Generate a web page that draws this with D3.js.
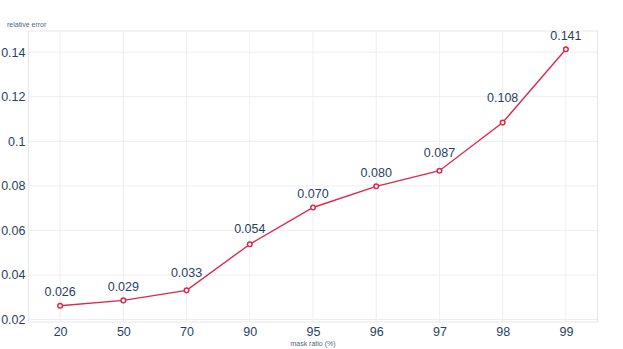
<!DOCTYPE html>
<html>
<head>
<meta charset="utf-8">
<script src="https://cdn.jsdelivr.net/npm/d3@7"></script>
<style>
  body { margin: 0; background: #fff; }
  text { font-family: "Liberation Sans", Arial, sans-serif; }
</style>
</head>
<body>
<div id="chart"></div>
<script>
var ratios = ["20", "50", "70", "90", "95", "96", "97", "98", "99"]
var errors = [0.0262, 0.0286, 0.0331, 0.0538, 0.0703, 0.0798, 0.0868, 0.1084, 0.1413]
var errorLabels = ["0.026", "0.029", "0.033", "0.054", "0.070", "0.080", "0.087", "0.108", "0.141"]
var yTicks = [0.02, 0.04, 0.06, 0.08, 0.1, 0.12, 0.14]

var width = 623, height = 349
// note: "top" is a reserved window global, so use plot* names
var plotLeft = 28.5, plotRight = 597.5, plotTop = 31, plotBottom = 322
var textColor = "#2a3f5f", lineColor = "#dc2a4e"

var svg = d3.select("#chart").append("svg")
            .attr("width", width)
            .attr("height", height)

var x = d3.scalePoint().domain(ratios).range([plotLeft, plotRight]).padding(0.5)
var y = d3.scaleLinear().domain([0.0189, 0.1495]).range([plotBottom, plotTop])

// grid
var grid = svg.append("g").attr("class", "grid")
grid.selectAll("line.h").data(yTicks)
  .enter().append("line")
    .attr("x1", plotLeft).attr("x2", plotRight)
    .attr("y1", d => y(d)).attr("y2", d => y(d))
    .attr("stroke", "#eeeeee").attr("stroke-width", 1)
grid.selectAll("line.v").data(ratios)
  .enter().append("line")
    .attr("x1", d => x(d)).attr("x2", d => x(d))
    .attr("y1", plotTop).attr("y2", plotBottom)
    .attr("stroke", "#eeeeee").attr("stroke-width", 1)

// frame
svg.append("rect")
   .attr("x", plotLeft).attr("y", plotTop)
   .attr("width", plotRight - plotLeft).attr("height", plotBottom - plotTop)
   .attr("fill", "none").attr("stroke", "#e8e8e8").attr("stroke-width", 1)

// axes
svg.append("g")
  .attr("transform", "translate(" + plotLeft + ",0)")
  .call(d3.axisLeft(y).tickValues(yTicks).tickFormat(d3.format("~g")).tickSize(0).tickPadding(3))
svg.append("g")
  .attr("transform", "translate(0," + plotBottom + ")")
  .call(d3.axisBottom(x).tickSize(0).tickPadding(5))
svg.selectAll(".domain").remove()
svg.selectAll(".tick text")
   .attr("fill", textColor)
   .style("font-size", "12.5px")
   .style("font-family", "'Liberation Sans', Arial, sans-serif")

// axis titles
svg.append("text")
   .attr("x", 7).attr("y", 27)
   .attr("fill", "#506784")
   .style("font-size", "7px")
   .text("relative error")
svg.append("text")
   .attr("x", (plotLeft + plotRight) / 2).attr("y", 346)
   .attr("text-anchor", "middle")
   .attr("fill", "#506784")
   .style("font-size", "7px")
   .text("mask ratio (%)")

// series
var pts = ratios.map((r, i) => ({ r: r, v: errors[i], label: errorLabels[i] }))
var line = d3.line().x(d => x(d.r)).y(d => y(d.v))

svg.append("path").datum(pts)
   .attr("d", line)
   .attr("fill", "none")
   .attr("stroke", lineColor)
   .attr("stroke-width", 1.4)

svg.selectAll("circle.pt").data(pts)
  .enter().append("circle")
    .attr("cx", d => x(d.r))
    .attr("cy", d => y(d.v))
    .attr("r", 2.3)
    .attr("fill", "#fff")
    .attr("stroke", lineColor)
    .attr("stroke-width", 1.5)

var labels = svg.selectAll("text.lbl").data(pts)
  .enter().append("text")
    .attr("class", "lbl")
    .attr("x", d => x(d.r))
    .attr("text-anchor", "middle")
    .attr("fill", textColor)
    .style("font-size", "12.5px")
    .text(d => d.label)

// push a label up when the next segment climbs through it
labels.attr("y", function(d, i) {
  var px = x(d.r), py = y(d.v)
  var base = py - 9.5
  if (i < pts.length - 1) {
    var nx = x(pts[i + 1].r), ny = y(pts[i + 1].v)
    var hw = this.getComputedTextLength() / 2
    var lineY = py + (ny - py) * hw / (nx - px)
    if (lineY - 2 < base) base = lineY - 2
  }
  return base
})
</script>
</body>
</html>
